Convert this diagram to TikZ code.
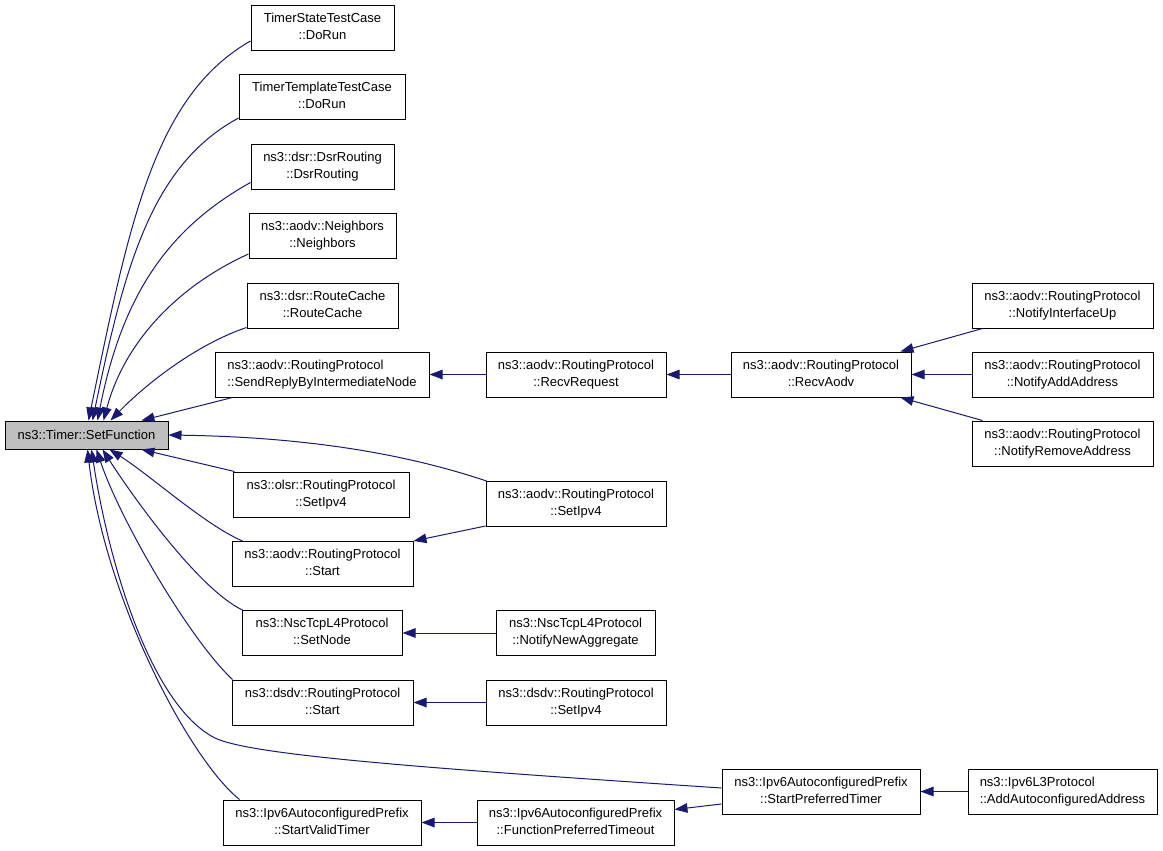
\documentclass[tikz,border=0pt]{standalone}
\usepackage{fontspec}
\setmainfont{Liberation Sans}
\usetikzlibrary{arrows.meta}
\definecolor{edgeblue}{HTML}{191970}
\definecolor{rootgray}{HTML}{BFBFBF}
\newcommand{\twol}[2]{\begin{tabular}{@{}l@{}}#1\\\multicolumn{1}{@{}c@{}}{#2}\end{tabular}}
\begin{document}
\begin{tikzpicture}[x=1pt,y=-1pt,
  fn/.style={draw=black, line width=1pt, fill=white, inner sep=0pt,
    font=\fontsize{13}{17}\selectfont, minimum height=45pt},
  call/.style={draw=edgeblue, line width=1pt, {Triangle[length=13pt,width=9.5pt]}-},
]
\useasboundingbox (0,0) rectangle (1163,851);

% root
\node[fn, fill=rootgray, minimum width=163pt, minimum height=28pt] (root) at (86.5,435) {ns3::Timer::SetFunction};

% column 2
\node[fn, minimum width=143pt] (n1) at (322.5,28) {\twol{TimerStateTestCase}{::DoRun}};
\node[fn, minimum width=166pt] (n2) at (322,97) {\twol{TimerTemplateTestCase}{::DoRun}};
\node[fn, minimum width=143pt] (n3) at (322.5,166.5) {\twol{ns3::dsr::DsrRouting}{::DsrRouting}};
\node[fn, minimum width=147pt] (n4) at (322.5,236) {\twol{ns3::aodv::Neighbors}{::Neighbors}};
\node[fn, minimum width=151pt] (n5) at (322.5,305.5) {\twol{ns3::dsr::RouteCache}{::RouteCache}};
\node[fn, minimum width=214pt] (n6) at (322,374.5) {\twol{ns3::aodv::RoutingProtocol}{::SendReplyByIntermediateNode}};
\node[fn, minimum width=176pt] (n7) at (321,494.5) {\twol{ns3::olsr::RoutingProtocol}{::SetIpv4}};
\node[fn, minimum width=181pt] (n8) at (322.5,564) {\twol{ns3::aodv::RoutingProtocol}{::Start}};
\node[fn, minimum width=160pt] (n9) at (322,633) {\twol{ns3::NscTcpL4Protocol}{::SetNode}};
\node[fn, minimum width=181pt] (n10) at (322.5,702.5) {\twol{ns3::dsdv::RoutingProtocol}{::Start}};
\node[fn, minimum width=198pt] (n11) at (322,822.5) {\twol{ns3::Ipv6AutoconfiguredPrefix}{::StartValidTimer}};

% column 3
\node[fn, minimum width=180pt] (m1) at (576,374.5) {\twol{ns3::aodv::RoutingProtocol}{::RecvRequest}};
\node[fn, minimum width=180pt] (m2) at (576,504) {\twol{ns3::aodv::RoutingProtocol}{::SetIpv4}};
\node[fn, minimum width=159pt] (m3) at (575.5,633) {\twol{ns3::NscTcpL4Protocol}{::NotifyNewAggregate}};
\node[fn, minimum width=180pt] (m4) at (576,702.5) {\twol{ns3::dsdv::RoutingProtocol}{::SetIpv4}};
\node[fn, minimum width=197pt] (m5) at (575.5,822.5) {\twol{ns3::Ipv6AutoconfiguredPrefix}{::FunctionPreferredTimeout}};

% column 4
\node[fn, minimum width=180pt] (p1) at (821,374.5) {\twol{ns3::aodv::RoutingProtocol}{::RecvAodv}};
\node[fn, minimum width=198pt] (p2) at (821,791.5) {\twol{ns3::Ipv6AutoconfiguredPrefix}{::StartPreferredTimer}};

% column 5
\node[fn, minimum width=181pt] (q1) at (1062.5,305.5) {\twol{ns3::aodv::RoutingProtocol}{::NotifyInterfaceUp}};
\node[fn, minimum width=181pt] (q2) at (1062.5,374.5) {\twol{ns3::aodv::RoutingProtocol}{::NotifyAddAddress}};
\node[fn, minimum width=181pt] (q3) at (1062.5,443.5) {\twol{ns3::aodv::RoutingProtocol}{::NotifyRemoveAddress}};
\node[fn, minimum width=189pt] (q4) at (1062.5,791.5) {\twol{ns3::Ipv6L3Protocol}{::AddAutoconfiguredAddress}};

% edges into root (top side)
\draw[call] ([xshift=84pt]root.north west) .. controls (129,224) and (154,96) .. ([yshift=10pt]n1.south west);
\draw[call] ([xshift=88pt]root.north west) .. controls (125,264) and (152,165) .. ([yshift=2pt]n2.south west);
\draw[call] ([xshift=93pt]root.north west) .. controls (123,291) and (171,227) .. ([yshift=7pt]n3.south west);
\draw[call] ([xshift=99pt]root.north west) .. controls (125,340) and (180,285) .. ([yshift=5pt]n4.south west);
\draw[call] ([xshift=106pt]root.north west) .. controls (145,385) and (195,345) .. ([yshift=1pt]n5.south west);
\draw[call] ([xshift=137pt]root.north west) -- ([xshift=18pt]n6.south west);
\draw[call] (root.east) .. controls (300,437) and (400,452) .. ([xshift=1pt]m2.north west);

% edges into root (bottom side)
\draw[call] ([xshift=137pt]root.south west) -- ([xshift=2pt]n7.north west);
\draw[call] ([xshift=105pt]root.south west) .. controls (150,475) and (205,525) .. ([xshift=11pt]n8.north west);
\draw[call] ([xshift=98pt]root.south west) .. controls (135,500) and (200,590) .. ([xshift=1pt]n9.north west);
\draw[call] ([xshift=92pt]root.south west) .. controls (120,520) and (190,640) .. ([xshift=1pt]n10.north west);
\draw[call] ([xshift=83pt]root.south west) .. controls (105,600) and (190,760) .. ([xshift=17pt]n11.north west);
\draw[call] ([xshift=87pt]root.south west) .. controls (108,560) and (150,705) .. (215,738)
   .. controls (250,755) and (420,768) .. ([yshift=3.5pt]p2.west);

% other edges
\draw[call] (n6.east) -- (m1.west);
\draw[call] (m1.east) -- (p1.west);
\draw[call] ([xshift=-11pt]p1.north east) -- ([xshift=11pt]q1.south west);
\draw[call] (p1.east) -- (q2.west);
\draw[call] ([xshift=-11pt]p1.south east) -- ([xshift=11pt]q3.north west);
\draw[call] (n8.north east) -- ([yshift=1pt]m2.south west);
\draw[call] (n9.east) -- (m3.west);
\draw[call] (n10.east) -- (m4.west);
\draw[call] (n11.east) -- (m5.west);
\draw[call] ([yshift=-10pt]m5.north east) -- ([yshift=-12.5pt]p2.west);
\draw[call] (p2.east) -- (q4.west);
\end{tikzpicture}
\end{document}
